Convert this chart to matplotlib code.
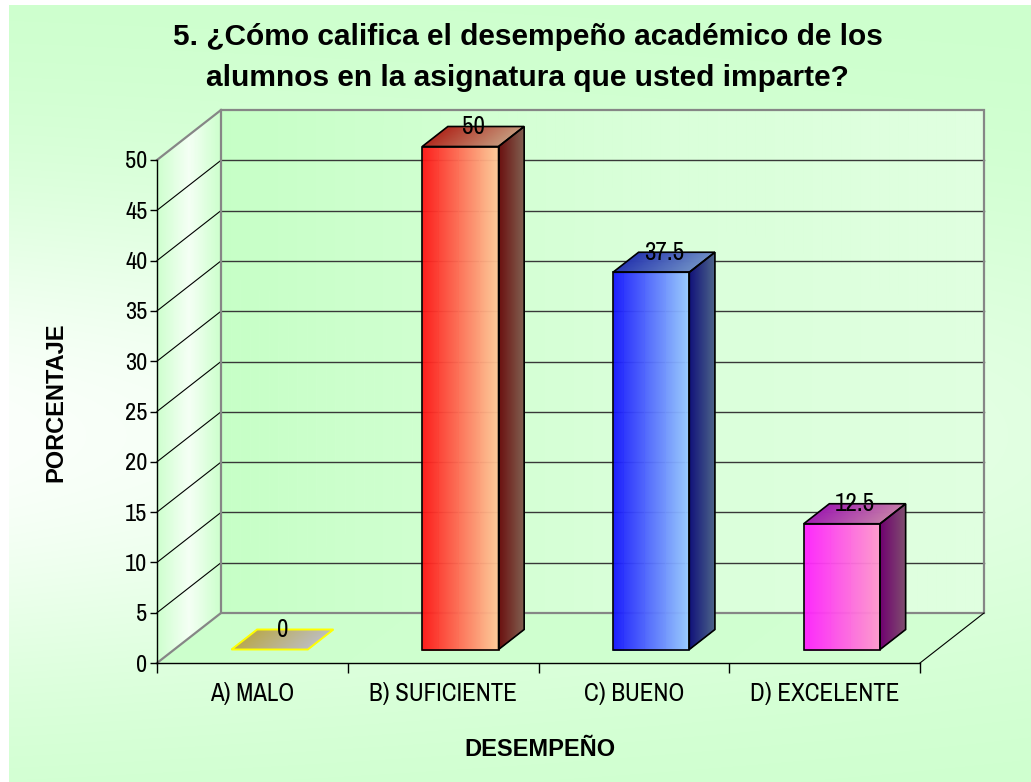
import numpy as np
import matplotlib
matplotlib.use('Agg')
import matplotlib.pyplot as plt
from matplotlib.collections import PolyCollection
from matplotlib.patches import Polygon
from matplotlib.colors import to_rgb

# --- datos ---
categorias = ['A) MALO', 'B) SUFICIENTE', 'C) BUENO', 'D) EXCELENTE']
porcentajes = [0, 50, 37.5, 12.5]
etiquetas = ['0', '50', '37.5', '12.5']
ticks_y = list(range(0, 55, 5))

titulo_1 = '5. ¿Cómo califica el desempeño académico de los'
titulo_2 = 'alumnos en la asignatura que usted imparte?'
titulo_x = 'DESEMPEÑO'
titulo_y = 'PORCENTAJE'

# colores de las caras (izquierda -> derecha)
frente = [('#B8A850', '#BDBDBD'), ('#FF1414', '#FFCC99'),
          ('#1414FF', '#99CCFF'), ('#FF1EFF', '#FF99CC')]
lado = [None, ('#6A0E0E', '#806050'), ('#10107A', '#4C6488'),
        ('#700070', '#7E4E6E')]
tapa = [('#B8A850', '#BDBDBD'), ('#B02A1E', '#C4967A'),
        ('#2838B0', '#6C8CC4'), ('#A020B0', '#C47AA8')]

NARROW = ['Archivo Narrow', 'Liberation Sans']
plt.rcParams['font.family'] = ['Liberation Sans', 'DejaVu Sans']

# profundidad del "3D" (en unidades de datos)
DX = 64 / 190.75
DY = 50 / 10.06
Z0, Z1 = 0.27, 0.67
HW = 0.2


def proj(x, v, z):
    return (x + z * DX, v + z * DY)


def gradiente(ax, a, b, c, d, stops, zorder, n=80):
    # degradado a lo largo de a->b (y d->c), en franjas
    a, b, c, d = (np.array(p, dtype=float) for p in (a, b, c, d))
    cols = np.array([to_rgb(s) for s in stops])
    pos = np.linspace(0, 1, len(cols))
    u = np.linspace(0, 1, n + 1)
    polys, colors = [], []
    for u0, u1 in zip(u[:-1], u[1:]):
        polys.append([a + (b - a) * u0, a + (b - a) * u1,
                      d + (c - d) * u1, d + (c - d) * u0])
        um = (u0 + u1) / 2
        colors.append([np.interp(um, pos, cols[:, k]) for k in range(3)])
    pc = PolyCollection(polys, facecolors=colors, edgecolors=colors,
                        linewidths=0.4, zorder=zorder, clip_on=False)
    ax.add_collection(pc)


def contorno(ax, pts, color='black', lw=1.2, zorder=3):
    ax.add_patch(Polygon(pts, closed=True, facecolor='none', edgecolor=color,
                         lw=lw, zorder=zorder, clip_on=False, joinstyle='miter'))


W, H = 1031, 782
fig = plt.figure(figsize=(W / 100, H / 100), dpi=100)
fig.patch.set_facecolor('white')

# fondo del area del grafico
bg = fig.add_axes([9 / W, 0, 1 - 9 / W, 1 - 5 / H], zorder=-1)
yy, xx = np.mgrid[0:777, 0:1022]
t = (0.92 - 0.5 * xx / 1022) * np.exp(-((yy - 430) / 250.0) ** 2)
verde = np.array([0.8, 1.0, 0.8])
img = verde[None, None, :] + t[..., None] * (1 - verde[None, None, :])
bg.imshow(img, aspect='auto', interpolation='bilinear')
bg.axis('off')

ax = fig.add_axes([157 / W, 119 / H, 763 / W, 503 / H], zorder=1)
ax.patch.set_visible(False)

n = len(categorias)
vmax = ticks_y[-1]

# paredes y piso
gradiente(ax, proj(0, 0, 0), proj(0, 0, 1), proj(0, vmax, 1), proj(0, vmax, 0),
          ['#CCFFCC', '#F6FFF6', '#CCFFCC'], zorder=0.2)
gradiente(ax, proj(0, 0, 1), proj(n, 0, 1), proj(n, vmax, 1), proj(0, vmax, 1),
          ['#C6FFC6', '#D8FFD8', '#E0FFE0'], zorder=0.2)
gradiente(ax, proj(0, 0, 0), proj(n, 0, 0), proj(n, 0, 1), proj(0, 0, 1),
          ['#CCFFCC', '#D2FFD2'], zorder=0.2)

for v in ticks_y[1:-1]:
    (x0, y0), (x1, y1) = proj(0, v, 1), proj(n, v, 1)
    ax.plot([x0, x1], [y0, y1], color='#383838', lw=1.0, zorder=1, clip_on=False)
    (x0, y0), (x1, y1) = proj(0, v, 0), proj(0, v, 1)
    ax.plot([x0, x1], [y0, y1], color='black', lw=0.8, zorder=1, clip_on=False)

gris = '#868686'
contorno(ax, [proj(0, 0, 1), proj(n, 0, 1), proj(n, vmax, 1), proj(0, vmax, 1)],
         color=gris, lw=1.6, zorder=1.2)
for v in (0, vmax):
    (x0, y0), (x1, y1) = proj(0, v, 0), proj(0, v, 1)
    ax.plot([x0, x1], [y0, y1], color=gris, lw=1.6, zorder=1.2, clip_on=False)
(x0, y0), (x1, y1) = proj(n, 0, 0), proj(n, 0, 1)
ax.plot([x0, x1], [y0, y1], color='black', lw=0.8, zorder=1.2, clip_on=False)

# barras
for i, val in enumerate(porcentajes):
    xc = i + 0.5
    xl, xr = xc - HW, xc + HW
    top = [proj(xl, val, Z0), proj(xr, val, Z0), proj(xr, val, Z1), proj(xl, val, Z1)]
    if val > 0:
        gradiente(ax, proj(xl, 0, Z0), proj(xr, 0, Z0), proj(xr, val, Z0),
                  proj(xl, val, Z0), frente[i], zorder=2)
        gradiente(ax, proj(xr, 0, Z0), proj(xr, 0, Z1), proj(xr, val, Z1),
                  proj(xr, val, Z0), lado[i], zorder=2)
        gradiente(ax, top[0], top[1], top[2], top[3], tapa[i], zorder=2)
        contorno(ax, [proj(xl, 0, Z0), proj(xr, 0, Z0), proj(xr, val, Z0), proj(xl, val, Z0)])
        contorno(ax, [proj(xr, 0, Z0), proj(xr, 0, Z1), proj(xr, val, Z1), proj(xr, val, Z0)])
        contorno(ax, top)
    else:
        gradiente(ax, top[0], top[1], top[2], top[3], tapa[i], zorder=2)
        contorno(ax, top, color='#FFFF00', lw=1.4)
    tx = proj(xc, val, (Z0 + Z1) / 2)[0]
    ty = proj(xc, val, Z1)[1]
    ax.text(tx, ty, etiquetas[i], ha='center', va='center', fontsize=18,
            family=NARROW, zorder=6)

# ejes
ax.set_xlim(0, n)
ax.set_ylim(0, vmax)
ax.set_yticks(ticks_y)
ax.set_xticks(range(n + 1))
ax.set_xticklabels([])
ax.set_xticks([i + 0.5 for i in range(n)], minor=True)
ax.set_xticklabels(categorias, minor=True, family=NARROW)
for lab in ax.get_yticklabels():
    lab.set_family(NARROW)
ax.tick_params(axis='x', which='major', length=7, width=1, direction='out')
ax.tick_params(axis='x', which='minor', length=0, pad=14, labelsize=18)
ax.tick_params(axis='y', length=5, width=1, pad=2, labelsize=17.5)
for s in ('top', 'right'):
    ax.spines[s].set_visible(False)
for s in ('left', 'bottom'):
    ax.spines[s].set_linewidth(1.0)
    ax.spines[s].set_zorder(4)

fig.text(527.5 / W, 1 - 45 / H, titulo_1, ha='center', va='baseline',
         fontsize=21.5, fontweight='bold')
fig.text(527.5 / W, 1 - 86 / H, titulo_2, ha='center', va='baseline',
         fontsize=21.5, fontweight='bold')
fig.text(540 / W, 1 - 756 / H, titulo_x, ha='center', va='baseline',
         fontsize=17, fontweight='bold')
fig.text(56 / W, 1 - 402 / H, titulo_y, ha='center', va='center',
         rotation=90, fontsize=17, fontweight='bold')

fig.savefig('out.png', dpi=100)
